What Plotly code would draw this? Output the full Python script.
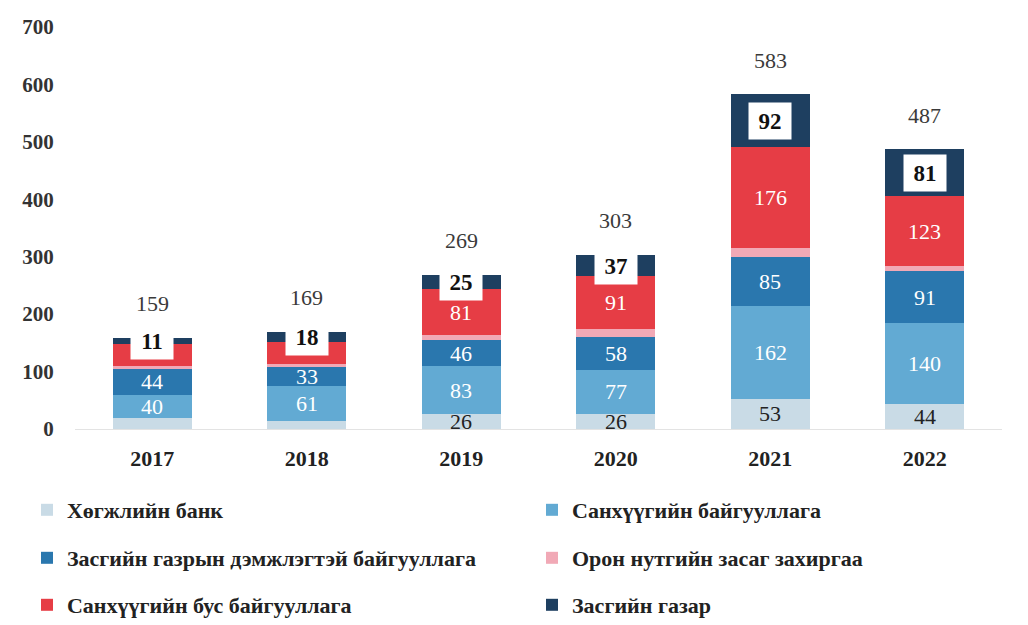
import plotly.graph_objects as go

years = ["2017", "2018", "2019", "2020", "2021", "2022"]
dev_bank = [20, 14, 26, 26, 53, 44]
fin_org = [40, 61, 83, 77, 162, 140]
gov_backed = [44, 33, 46, 58, 85, 91]
local_gov = [6, 6, 8, 14, 15, 8]
nonfin = [38, 37, 81, 91, 176, 123]
gov = [11, 18, 25, 37, 92, 81]
totals = [159, 169, 269, 303, 583, 487]

names = [
    "Хөгжлийн банк",
    "Санхүүгийн байгууллага",
    "Засгийн газрын дэмжлэгтэй байгууллага",
    "Орон нутгийн засаг захиргаа",
    "Санхүүгийн бус байгууллага",
    "Засгийн газар",
]
series = [dev_bank, fin_org, gov_backed, local_gov, nonfin, gov]
colors = ["#c9dbe6", "#62aad3", "#2a77ae", "#f1a9b6", "#e63d45", "#1e3f60"]
legends = ["legend", "legend2", "legend3", "legend4", "legend5", "legend6"]
# which labels are shown inside segments
show = [
    [False, False, True, True, True, True],
    [True] * 6,
    [True] * 6,
    [False] * 6,
    [False, False, True, True, True, True],
    [True] * 6,
]
label_colors = ["#222222", "white", "white", "white", "white", "#111111"]

FONT = "Liberation Serif"

fig = go.Figure()
for name, vals, col, lg in zip(names, series, colors, legends):
    fig.add_trace(go.Bar(
        x=years, y=vals, name=name, marker=dict(color=col, line=dict(width=0)),
        legend=lg,
    ))

annotations = []
base = [0] * len(years)
for si, vals in enumerate(series):
    for i, v in enumerate(vals):
        mid = base[i] + v / 2
        if show[si][i]:
            if si == 5:
                annotations.append(dict(
                    x=i, y=mid, text="<b>%d</b>" % v, showarrow=False,
                    font=dict(family=FONT, size=23, color="#111111"),
                    bgcolor="white", width=40, height=34,
                ))
            else:
                annotations.append(dict(
                    x=i, y=mid, text=str(v), showarrow=False,
                    font=dict(family=FONT, size=22, color=label_colors[si]),
                ))
        base[i] += v

for i, t in enumerate(totals):
    annotations.append(dict(
        x=i, y=t, text=str(t), showarrow=False, yanchor="middle", yshift=34,
        font=dict(family=FONT, size=22, color="#3a3a3a"),
    ))

leg_common = dict(orientation="v", xanchor="left", yanchor="middle",
                  font=dict(family=FONT, size=22, color="#222222", weight="bold"),
                  bgcolor="rgba(0,0,0,0)")
col_x = [-0.0518, 0.4930]
row_y = [-0.2015, -0.3209, -0.4378]
legend_layout = {}
for k, lg in enumerate(legends):
    legend_layout[lg] = dict(**leg_common, x=col_x[k % 2], y=row_y[k // 2])

fig.update_layout(
    width=1028, height=625,
    barmode="stack", bargap=0.49,
    plot_bgcolor="white", paper_bgcolor="white",
    margin=dict(l=67, r=34, t=19, b=204, autoexpand=False),
    font=dict(family=FONT, size=20, color="#333333"),
    showlegend=True,
    annotations=annotations,
    xaxis=dict(type="category", range=[-0.5, 5.5], showgrid=False, showline=True,
               linecolor="#e3e3e3", linewidth=1, ticks="outside", ticklen=10,
               tickcolor="rgba(0,0,0,0)",
               tickfont=dict(family=FONT, size=22, color="#222222", weight="bold")),
    yaxis=dict(range=[0, 700], dtick=100, showgrid=False, zeroline=False,
               showline=False, ticks="outside", ticklen=16, tickcolor="rgba(0,0,0,0)",
               tickfont=dict(family=FONT, size=21, color="#333333", weight="bold")),
    **legend_layout,
)

fig.write_html("out.html")
